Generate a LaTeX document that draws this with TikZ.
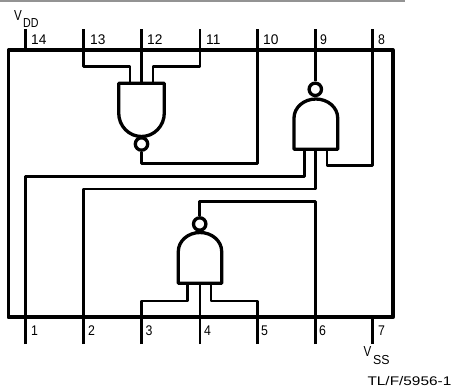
\documentclass[tikz,border=0pt]{standalone}
\usepackage{fontspec}
\setmainfont{Liberation Sans}
\newcommand\nx[2]{\scalebox{#1}[1]{#2}}
\begin{document}
\begin{tikzpicture}[x=1pt,y=-1pt,
  chip/.style={line width=3.8pt,line join=round},
  wire/.style={line width=2.5pt,line join=round},
  gate/.style={line width=3.3pt,line join=round},
  bubble/.style={circle,draw,line width=3.3pt,minimum size=12.4pt,inner sep=0pt},
  pinlabel/.style={font=\fontsize{14}{14}\selectfont,anchor=west,inner sep=0pt},
  vlabel/.style={font=\fontsize{14.5}{14}\selectfont,inner sep=0pt,anchor=west},
  sub/.style={font=\fontsize{13}{13}\selectfont,inner sep=0pt,anchor=west}]
\useasboundingbox (0,0) rectangle (454,389);
\fill[gray!85] (0,0) rectangle (405,1.6);
% pin coordinates
\foreach \n/\x in {14/25.7,13/83.7,12/141.5,11/200,10/257.7,9/315.3,8/372.7}{
  \coordinate (t\n) at (\x,29); \coordinate (e\n) at (\x,50);}
\foreach \n/\x in {1/25.7,2/83.7,3/141.7,4/200,5/257.7,6/315.3,7/372.7}{
  \coordinate (b\n) at (\x,344); \coordinate (f\n) at (\x,317.3);}
% package
\draw[chip] (8.5,50) rectangle (392.7,317.3);
% pins
\foreach \n in {14,13,12,11,10,9,8}{\draw[wire] (t\n) -- (e\n);}
\foreach \n in {1,2,3,4,5,6,7}{\draw[wire] (b\n) -- (f\n);}
% pin labels
\foreach \n/\x in {14/31,13/90,12/147,11/206,10/263}{
  \node[pinlabel] (l\n) at (\x,39.5) {\nx{.98}{\n}};}
\foreach \n/\x in {9/320,8/378}{
  \node[pinlabel] (l\n) at (\x,39.5) {\nx{.88}{\n}};}
\foreach \n/\x in {1/31,2/88,3/145.5,4/204,5/261,6/319,7/378}{
  \node[pinlabel] (l\n) at (\x,330.5) {\nx{.88}{\n}};}
% supply labels
\node[vlabel] (vdd) at (14,16) {\nx{.8}{V}};
\node[sub] (vddsub) at (23,23) {\nx{.82}{DD}};
\node[vlabel] (vss) at (363.5,352) {\nx{.8}{V}};
\node[sub] (vsssub) at (373,360) {\nx{.95}{SS}};
\node[font=\fontsize{12.5}{12.5}\selectfont,inner sep=0pt,anchor=east] (ref) at (451.5,381) {\nx{1.23}{TL/F/5956-1}};
% top gate
\draw[gate] (118.7,83.3) -- (164.3,83.3) -- (164.3,113) arc[start angle=0,end angle=-180,x radius=22.8pt,y radius=23.5pt] -- cycle;
\node[bubble] (bt) at (141.5,144) {};
\coordinate (gtout) at (141.5,163.7);
\draw[wire] (e13) |- (130,66.7) -- (130,83.3);
\draw[wire] (e12) -- (141.5,83.3);
\draw[wire] (e11) |- (153,66.7) -- (153,83.3);
\draw[wire] (bt.south) -- (gtout) -| (e10);
% right gate
\draw[gate] (294,149.3) -- (337.7,149.3) -- (337.7,118) arc[start angle=0,end angle=180,x radius=21.85pt,y radius=19pt] -- cycle;
\node[bubble] (br) at (315.3,89.3) {};
\draw[wire] (e9) -- (br.north);
\coordinate (ri1) at (304.3,149.3);
\coordinate (ri2) at (315.3,149.3);
\coordinate (ri3) at (327,149.3);
\draw[wire] (ri1) -- (304.3,176.7) -- (25.7,176.7) -- (f1);
\draw[wire] (ri2) -- (315.3,189) -- (83.7,189) -- (f2);
\draw[wire] (ri3) -- (327,165.7) -- (372.7,165.7) -- (e8);
% bottom gate
\draw[gate] (178.3,283.3) -- (221.7,283.3) -- (221.7,251.5) arc[start angle=0,end angle=180,x radius=21.7pt,y radius=19pt] -- cycle;
\node[bubble] (bb) at (199.7,224) {};
\draw[wire] (bb.north) |- (315.3,201.3) -- (f6);
\draw[wire] (187.7,283.3) -- (187.7,301) -- (141.7,301) -- (f3);
\draw[wire] (200,283.3) -- (f4);
\draw[wire] (211,283.3) -- (211,301) -- (257.7,301) -- (f5);
\end{tikzpicture}
\end{document}
